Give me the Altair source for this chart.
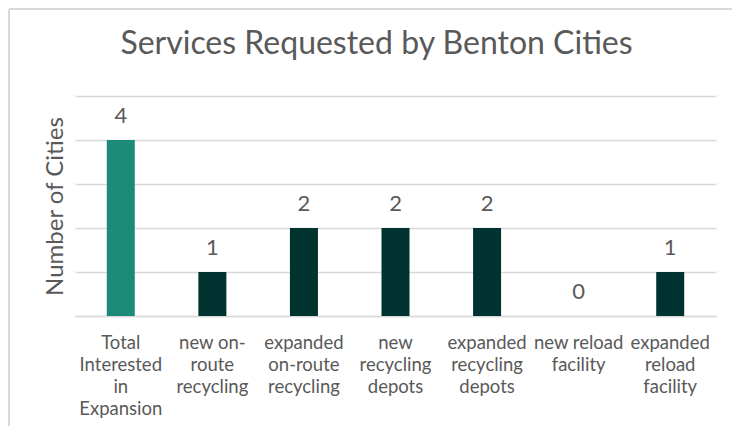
import altair as alt
import pandas as pd

categories = [
    "Total|Interested|in|Expansion",
    "new on-|route|recycling",
    "expanded|on-route|recycling",
    "new|recycling|depots",
    "expanded|recycling|depots",
    "new reload|facility",
    "expanded|reload|facility",
]
values = [4, 1, 2, 2, 2, 0, 1]
groups = ["total", "service", "service", "service", "service", "service", "service"]

df = pd.DataFrame({"cat": categories, "val": values, "grp": groups})

FONT = "Lato"
GRAY = "#595959"
GRID = "#d9d9d9"

x = alt.X("cat:N", sort=categories, title=None,
          axis=alt.Axis(labelAngle=0, labelExpr="split(datum.label, '|')",
                        labelFontSize=18.5, labelColor=GRAY, labelFont=FONT,
                        labelLineHeight=22, labelPadding=17, ticks=False,
                        domainColor=GRID, domainWidth=1.5, labelBaseline="top",
                        labelLimit=200))

bars = alt.Chart(df).mark_bar(size=28).encode(
    x=x,
    y=alt.Y("val:Q", scale=alt.Scale(domain=[0, 5], nice=False),
            title="Number of Cities",
            axis=alt.Axis(labels=False, ticks=False, domain=False, tickCount=5,
                          gridColor=GRID, gridWidth=1.5,
                          titleFontSize=24, titleColor=GRAY, titleFont=FONT,
                          titleFontWeight="normal", titlePadding=8)),
    color=alt.Color("grp:N", scale=alt.Scale(domain=["total", "service"],
                                             range=["#1b8a78", "#00332f"]),
                    legend=None),
)

labels = alt.Chart(df).mark_text(fontSize=22, color=GRAY, font=FONT,
                                 baseline="alphabetic", dy=-17).encode(
    x=alt.X("cat:N", sort=categories),
    y="val:Q",
    text="val:Q",
)

frame_top = alt.Chart(df).mark_rule(color=GRID, strokeWidth=2).encode(
    x=alt.value(-66), x2=alt.value(657), y=alt.value(-87))
frame_left = alt.Chart(df).mark_rule(color=GRID, strokeWidth=2).encode(
    x=alt.value(-66), y=alt.value(-87), y2=alt.value(330))

chart = alt.layer(frame_top, frame_left, bars, labels).properties(
    width=641, height=220,
    title=alt.TitleParams("Services Requested by Benton Cities", fontSize=32,
                          color=GRAY, font=FONT, fontWeight="normal",
                          anchor="middle", baseline="alphabetic", offset=0,
                          dy=78, dx=-19),
    autosize=alt.AutoSizeParams(type="none"),
    padding={"left": 67, "top": 88, "right": 16, "bottom": 110},
).configure_view(stroke=None)

chart.save("out.html", embed_options={"renderer": "svg", "actions": False})
